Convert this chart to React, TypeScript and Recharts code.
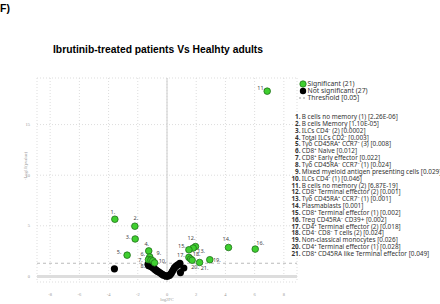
import React from 'react';
import { ScatterChart, Scatter, XAxis, YAxis, CartesianGrid, ReferenceLine, LabelList } from 'recharts';

// significant cell populations (volcano plot, Ibrutinib vs healthy)
const sigIds = [1, 2, 3, 4, 5, 6, 7, 8, 9, 10, 11, 12, 13, 14, 15, 16, 17, 18, 19, 20, 21];
const sigLog2FC = [-3.57, -2.2, -2.18, -1.25, -2.73, -1.18, -1.27, -1.1, -0.97, -0.85, 6.86, 1.95, 1.79, 4.21, 1.5, 6.04, 1.5, 1.62, 2.93, 1.72, 2.23];
const sigNegLogP = [5.65, 4.96, 3.7, 2.52, 2.1, 1.92, 1.66, 1.62, 1.54, 1.34, 18.3, 2.95, 2.8, 2.86, 2.63, 2.7, 1.88, 1.72, 1.65, 1.6, 1.38];
const sigNames = [
  'B cells no memory (1)',
  'B cells Memory',
  'ILCs CD4\u207B (2)',
  'Total ILCs CD2\u207B',
  'T\u03B3\u03B4 CD45RA\u207A CCR7\u207B (3)',
  'CD8\u207A Naive',
  'CD8\u207A Early effector',
  'T\u03B3\u03B4 CD45RA\u207B CCR7\u207B (1)',
  'Mixed myeloid antigen presenting cells',
  'ILCs CD4\u207B (1)',
  'B cells no memory (2)',
  'CD8\u207A Terminal effector (2)',
  'T\u03B3\u03B4 CD45RA\u207A CCR7\u207B (1)',
  'Plasmablasts',
  'CD8\u207A Terminal effector (1)',
  'Treg CD45RA\u207B CD39+',
  'CD4\u207A Terminal effector (2)',
  'CD4\u207B CD8\u207B T cells (2)',
  'Non-classical monocytes',
  'CD4\u207A Terminal effector (1)',
  'CD8\u207A CD45RA like Terminal effector',
];
const sigPValues = ['2.26E-06', '1.10E-05', '0.0002', '0.003', '0.008', '0.012', '0.022', '0.024', '0.029', '0.046',
  '6.87E-19', '0.001', '0.001', '0.001', '0.002', '0.002', '0.018', '0.024', '0.026', '0.028', '0.049'];

// not significant
const nsLog2FC = [-3.6, -1.3, -1.25, -1.15, -1.08, -1.0, -0.92, -0.84, -0.75, -0.66, -0.56, -0.46, -0.36, -0.26, -0.16, -0.06,
  0.06, 0.18, 0.28, 0.36, 0.44, 0.52, 0.62, 0.74, 0.88, 0.92, 1.15];
const nsNegLogP = [0.75, 1.2, 1.05, 1.12, 0.98, 0.9, 0.82, 0.72, 0.62, 0.52, 0.44, 0.34, 0.24, 0.15, 0.08, 0.03,
  0.04, 0.12, 0.28, 0.48, 0.68, 0.88, 1.02, 1.14, 1.3, 0.38, 0.83];

const xTicks = [-8, -6, -4, -2, 0, 2, 4, 6, 8];
const yTicks = [0, 5, 10, 15];
const threshold = 0.05;

const sigData = sigIds.map((id, i) => ({ id, x: sigLog2FC[i], y: sigNegLogP[i] }));
const nsData = nsLog2FC.map((x, i) => ({ x, y: nsNegLogP[i] }));

// where each point number sits relative to its marker
const labelShift: Record<number, [number, number]> = {
  1: [-2, -7], 2: [1, -8], 3: [-7, -2], 4: [-2, -7], 5: [-8, -3], 6: [-7, -3], 7: [-8, 0],
  8: [-8, 6], 9: [6, -8], 10: [8, -2], 11: [-6, -3], 12: [-4, -8], 13: [8, 3], 14: [-2, -8],
  15: [-7, -4], 16: [5, -6], 17: [-8, -2], 18: [6, -5], 19: [7, 0], 20: [3, 7], 21: [5, 6],
};

const GREEN = '#3fcf2f';
const font = '"Noto Sans", "Open Sans", sans-serif';
const arial = '"Liberation Sans", Arial, sans-serif';

const App = () => {
  const pointLabel = (props: any) => {
    const { x, y, width, height, value } = props;
    const s = labelShift[value] || [0, -7];
    return (
      <text x={x + width / 2 + s[0]} y={y + height / 2 + s[1]} dy="0.35em" textAnchor="middle"
        fontSize={5.5} fill="#444" fontFamily={font}>{value}.</text>
    );
  };

  return (
    <div style={{ position: 'absolute', left: 0, top: 0, width: 440, height: 304, background: '#fff' }}>
      <ScatterChart width={440} height={304} margin={{ top: 78, right: 143, bottom: 0, left: 27 }}>
        <CartesianGrid stroke="#ddd" strokeDasharray="1 2" />
        <XAxis type="number" dataKey="x" domain={[-8.9, 8.9]} ticks={xTicks} axisLine={false} tickLine={false}
          tick={{ fontSize: 4.5, fill: '#999' }} tickMargin={5} height={22}
          label={{ value: 'log2FC', position: 'insideBottom', offset: 3, fontSize: 4.5, fill: '#999' }} />
        <YAxis type="number" dataKey="y" domain={[-0.55, 19.6]} ticks={yTicks} axisLine={false} tickLine={false}
          tick={{ fontSize: 4.5, fill: '#999' }} tickMargin={1} width={10}
          label={{ value: '-Log10(pvalue)', angle: -90, position: 'insideLeft', offset: -2, fontSize: 4.5, fill: '#999' }} />
        <ReferenceLine y={0} stroke="#ddd" strokeWidth={3} />
        <ReferenceLine x={0} stroke="#ccc" strokeWidth={1} />
        <ReferenceLine y={-Math.log10(threshold)} stroke="#bbb" strokeDasharray="3 3" strokeWidth={1} />
        <Scatter data={nsData} isAnimationActive={false}
          shape={(p: any) => <circle cx={p.cx} cy={p.cy} r={3.6} fill="#000" />} />
        <Scatter data={sigData} isAnimationActive={false}
          shape={(p: any) => <circle cx={p.cx} cy={p.cy} r={3.3} fill={GREEN} stroke="#1f6e1a" strokeWidth={0.8} />}>
          <LabelList dataKey="id" content={pointLabel} />
        </Scatter>
      </ScatterChart>

      {/* headings, legend and the numbered key */}
      <svg width={440} height={304} style={{ position: 'absolute', left: 0, top: 0, pointerEvents: 'none' }}>
        <text x={0} y={12} fontSize={10.5} fontWeight="bold" fontFamily={arial} fill="#000">F)</text>
        <text x={53} y={52.5} fontSize={10.3} fontWeight="bold" fontFamily={arial} fill="#000">
          Ibrutinib-treated patients Vs Healhty adults
        </text>

        <g fontFamily={font} fontSize={6.8} fill="#333">
          <circle cx={303} cy={84} r={3.2} fill={GREEN} stroke="#1f6e1a" strokeWidth={0.7} />
          <text x={307.5} y={86.4}>Significant ({sigIds.length})</text>
          <circle cx={303} cy={91} r={3.2} fill="#000" />
          <text x={307.5} y={93.4}>Not significant ({nsLog2FC.length})</text>
          <line x1={299} y1={98} x2={307} y2={98} stroke="#999" strokeDasharray="2 2" />
          <text x={307.5} y={100.4}>Threshold [{threshold.toFixed(2)}]</text>
        </g>

        <g fontFamily={font} fontSize={6.4} fill="#333">
          {sigIds.map((id, i) => (
            <text key={id} y={119 + i * 6.85}>
              <tspan x={300.5} textAnchor="end" fontWeight="bold">{id}.</tspan>
              <tspan x={301.8} textAnchor="start">{sigNames[i]} [{sigPValues[i]}]</tspan>
            </text>
          ))}
        </g>
      </svg>
    </div>
  );
};

export default App;
